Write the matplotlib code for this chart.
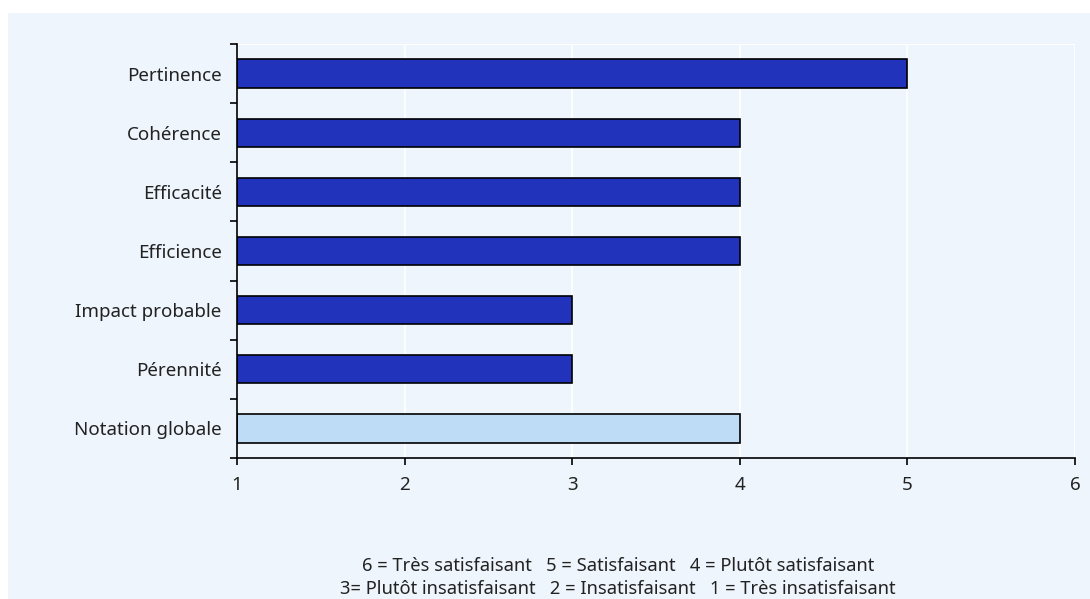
import matplotlib
matplotlib.use("Agg")
import matplotlib.pyplot as plt
from matplotlib.patches import Rectangle

categories = ["Pertinence", "Cohérence", "Efficacité", "Efficience",
              "Impact probable", "Pérennité", "Notation globale"]
values = [5, 4, 4, 4, 3, 3, 4]
xticks = [1, 2, 3, 4, 5, 6]
legend_lines = ["6 = Très satisfaisant   5 = Satisfaisant   4 = Plutôt satisfaisant",
                "3= Plutôt insatisfaisant   2 = Insatisfaisant   1 = Très insatisfaisant"]

plt.rcParams['font.family'] = ['Noto Sans', 'DejaVu Sans']
FS = 13.5
W, H = 1090, 599
fig = plt.figure(figsize=(W/100, H/100), dpi=100)
fig.patch.set_facecolor("white")
bg = "#EEF5FC"
fig.patches.append(Rectangle((8/W, 0), 1 - 8/W, 1 - 13/H, transform=fig.transFigure,
                             facecolor=bg, edgecolor="none", zorder=-10))

left, right, top, bottom = 237, 1075, 44, 458
ax = fig.add_axes([left/W, 1 - bottom/H, (right-left)/W, (bottom-top)/H])
ax.set_facecolor(bg)

n = len(categories)
ypos = list(range(n))
colors = ["#2233BB"] * (n - 1) + ["#BFDCF6"]
ax.barh(ypos, [v - 1 for v in values], left=1, height=0.48, color=colors,
        edgecolor="black", linewidth=1.2, zorder=3)

ax.set_xlim(1, 6)
ax.set_ylim(n - 0.5, -0.5)
ax.set_xticks(xticks)
ax.set_xticklabels([str(t) for t in xticks], fontsize=FS, color="#222222")
ax.set_yticks(ypos)
ax.set_yticklabels(categories, fontsize=FS, color="#222222")
ax.set_yticks([i - 0.5 for i in range(n + 1)], minor=True)
ax.tick_params(axis="y", which="major", length=0, pad=11)
ax.tick_params(axis="y", which="minor", length=5, width=1.2, color="black")
ax.tick_params(axis="x", length=5, width=1.2, color="black", pad=8)

for x in xticks[1:]:
    ax.axvline(x, color="white", linewidth=1.2, zorder=1)
ax.axhline(-0.5, color="white", linewidth=1.5, zorder=1)

for s in ["top", "right"]:
    ax.spines[s].set_visible(False)
for s in ["left", "bottom"]:
    ax.spines[s].set_linewidth(1.2)
    ax.spines[s].set_color("black")
    ax.spines[s].set_zorder(4)

cx = 618 / W
fig.text(cx, 1 - 566/H, legend_lines[0], ha="center", va="center", fontsize=13.2, color="#222222")
fig.text(cx, 1 - 589/H, legend_lines[1], ha="center", va="center", fontsize=13.2, color="#222222")

fig.savefig("out.png", dpi=100, facecolor=fig.get_facecolor())
